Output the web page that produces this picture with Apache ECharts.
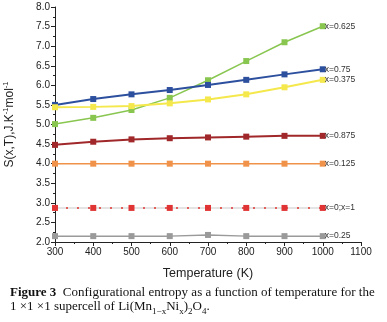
<!DOCTYPE html>
<html>
<head>
<meta charset="utf-8">
<script src="https://cdn.jsdelivr.net/npm/echarts@6/dist/echarts.min.js"></script>
<style>
	html, body { margin: 0; padding: 0; background: #fff; }
	#wrap { position: relative; width: 387px; height: 322px; }
	#main { position: absolute; left: 0; top: 0; width: 387px; height: 322px; }
	#caption {
		position: absolute; left: 10px; top: 285px; width: 377px;
		font-family: 'Liberation Serif', 'DejaVu Serif', serif;
		font-size: 13px; line-height: 14px; color: #111; white-space: nowrap;
	}
	#caption sub { font-size: 9px; line-height: 0; }
</style>
</head>
<body>
<div id="wrap">
	<div id="main"></div>
	<div id="caption"><b>Figure 3</b>&nbsp; Configurational entropy as a function of temperature for the<br>1 ×1 ×1 supercell of Li(Mn<sub>1−x</sub>Ni<sub>x</sub>)<sub>2</sub>O<sub>4</sub>.</div>
</div>
<script>
	// temperatures (K)
	const temperatures = [300, 400, 500, 600, 700, 800, 900, 1000];

	// S(x,T) per composition
	const s0625 = [5.01, 5.17, 5.37, 5.68, 6.13, 6.62, 7.10, 7.51];
	const s075 = [5.50, 5.65, 5.77, 5.88, 6.01, 6.14, 6.28, 6.41];
	const s0375 = [5.44, 5.45, 5.47, 5.54, 5.64, 5.77, 5.95, 6.14];
	const s0875 = [4.48, 4.56, 4.62, 4.65, 4.67, 4.69, 4.71, 4.71];
	const s0125 = [4.0, 4.0, 4.0, 4.0, 4.0, 4.0, 4.0, 4.0];
	const s0and1 = [2.87, 2.87, 2.87, 2.87, 2.87, 2.87, 2.87, 2.87];
	const s025 = [2.15, 2.15, 2.15, 2.15, 2.18, 2.15, 2.15, 2.15];

	const seriesNames = ['x=0.625', 'x=0.75', 'x=0.375', 'x=0.875', 'x=0.125', 'x=0;x=1', 'x=0.25'];

	const toPoints = values => temperatures.map((t, i) => [t, values[i]]);

	const makeLine = (name, values, color, width, extra) => Object.assign({
		name: name,
		type: 'line',
		data: toPoints(values),
		symbol: 'rect',
		symbolSize: 6,
		itemStyle: { color: color },
		lineStyle: { color: color, width: width },
		endLabel: {
			show: true,
			formatter: '{a}',
			color: '#333',
			fontSize: 8.5,
			fontFamily: 'Liberation Sans',
			distance: 2
		},
		emphasis: { disabled: true },
		animation: false
	}, extra || {});

	const chart = echarts.init(document.getElementById('main'));

	const option = {
		animation: false,
		grid: { left: 55, right: 26, top: 7, bottom: 80, outerBoundsMode: 'none' },
		xAxis: {
			type: 'value',
			min: 300,
			max: 1100,
			interval: 100,
			name: 'Temperature (K)',
			nameLocation: 'middle',
			nameGap: 25,
			nameTextStyle: { fontSize: 12.5, color: '#222', fontFamily: 'Liberation Sans' },
			axisLine: { lineStyle: { color: '#222', width: 1 } },
			axisTick: { length: 4, lineStyle: { color: '#222' } },
			minorTick: { show: true, splitNumber: 2, length: 2, lineStyle: { color: '#222' } },
			axisLabel: {
				fontSize: 10,
				color: '#222',
				margin: 5,
				fontFamily: 'Liberation Sans',
				formatter: v => String(v)
			},
			splitLine: { show: false }
		},
		yAxis: {
			type: 'value',
			min: 2,
			max: 8,
			interval: 0.5,
			name: '{n|S(x,T),J.K}{s|-1}{n|mol}{s|-1}',
			nameLocation: 'middle',
			nameGap: 37,
			nameTextStyle: {
				color: '#222',
				fontFamily: 'Liberation Sans',
				rich: {
					n: { fontSize: 12, color: '#222', fontFamily: 'Liberation Sans' },
					s: { fontSize: 7.5, color: '#222', fontFamily: 'Liberation Sans', verticalAlign: 'top', padding: [0, 0, 8, 0] }
				}
			},
			axisLine: { show: true, lineStyle: { color: '#222', width: 1 } },
			axisTick: { show: true, length: 4, lineStyle: { color: '#222' } },
			minorTick: { show: true, splitNumber: 2, length: 2, lineStyle: { color: '#222' } },
			axisLabel: {
				fontSize: 10,
				color: '#222',
				margin: 5,
				fontFamily: 'Liberation Sans',
				formatter: v => v.toFixed(1)
			},
			splitLine: { show: false }
		},
		series: [
			makeLine(seriesNames[0], s0625, '#88c650', 1.5),
			makeLine(seriesNames[1], s075, '#2c4f9e', 2),
			makeLine(seriesNames[2], s0375, '#f4e84c', 2),
			makeLine(seriesNames[3], s0875, '#a0282a', 2),
			makeLine(seriesNames[4], s0125, '#f0924a', 1.5),
			// light grey base line under the red dotted one
			makeLine(seriesNames[5], s0and1, '#e03434', 1.5, {
				lineStyle: { color: '#dcdcdc', width: 1.5 }
			}),
			makeLine('dots', s0and1, '#e03434', 1.5, {
				symbol: 'none',
				lineStyle: { color: '#e03434', width: 1.5, type: [2, 9] },
				endLabel: { show: false }
			}),
			makeLine(seriesNames[6], s025, '#9a9a9a', 1.5)
		]
	};

	chart.setOption(option);
</script>
</body>
</html>
